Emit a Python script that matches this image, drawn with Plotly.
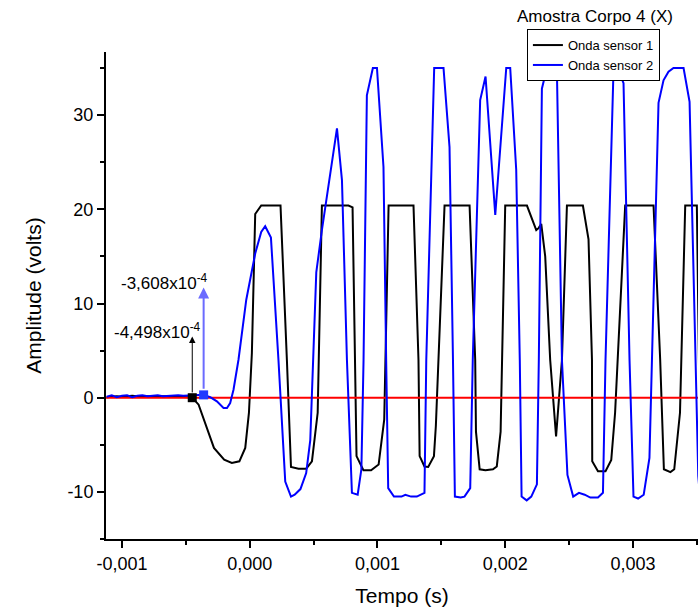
import numpy as np
import plotly.graph_objects as go

# Sensor 1 (black) waveform: time in ms, amplitude in volts
t1_ms = [-1.12, -1.08, -1.04, -1.00, -0.96, -0.92, -0.88, -0.84, -0.80, -0.76,
         -0.72, -0.68, -0.64, -0.60, -0.56, -0.52, -0.48, -0.4498,
         -0.400, -0.280, -0.200, -0.140, -0.081, -0.035, -0.006, 0.017, 0.043,
         0.090, 0.241, 0.291, 0.323, 0.382, 0.442, 0.487, 0.532, 0.565,
         0.773, 0.805, 0.826, 0.836, 0.890, 0.950, 1.009, 1.053, 1.087,
         1.282, 1.321, 1.330, 1.368, 1.397, 1.442, 1.457, 1.525,
         1.721, 1.765, 1.771, 1.800, 1.845, 1.904, 1.934, 1.964, 2.000,
         2.170, 2.209, 2.243, 2.261, 2.282, 2.313, 2.352, 2.398, 2.444, 2.483,
         2.608, 2.652, 2.679, 2.681, 2.726, 2.785, 2.830, 2.860, 2.939,
         3.161, 3.213, 3.242, 3.293, 3.323, 3.368, 3.409, 3.500, 3.530]
v1 = [0.05, 0.10, 0.15, 0.10, 0.15, 0.20, 0.15, 0.15, 0.20, 0.20,
      0.15, 0.15, 0.20, 0.15, 0.10, 0.10, 0.05, 0.0,
      -0.74, -5.33, -6.57, -6.92, -6.75, -5.33, -1.59, 4.77, 19.5,
      20.4, 20.4, 4.0, -7.35, -7.53, -7.53, -6.75, -1.6, 20.4,
      20.4, 20.2, 4.0, -6.2, -7.7, -7.7, -7.1, -2.3, 20.4,
      20.4, 4.0, -6.2, -7.3, -7.35, -6.2, -3.0, 20.4,
      20.4, 4.0, -3.6, -7.6, -7.7, -7.6, -7.3, -3.6, 20.4,
      20.4, 18.9, 17.8, 18.0, 18.45, 15.0, 4.0, -4.1, 4.0, 20.4,
      20.4, 16.8, 4.0, -6.75, -7.8, -7.8, -6.6, -1.6, 20.4,
      20.4, 4.0, -7.6, -7.9, -7.6, -1.6, 20.4, 20.4, -10.0]

# Sensor 2 (blue) waveform: time in ms, amplitude in volts
t2_ms = [-1.12, -1.08, -1.04, -1.00, -0.96, -0.92, -0.88, -0.84, -0.80, -0.76,
         -0.72, -0.68, -0.64, -0.60, -0.56, -0.52, -0.48, -0.44, -0.40, -0.3608,
         -0.309, -0.257, -0.205, -0.178, -0.153, -0.127, -0.088, -0.027, 0.043,
         0.090, 0.121, 0.166, 0.225, 0.278, 0.323, 0.352, 0.397, 0.442, 0.474,
         0.497, 0.521, 0.565, 0.683, 0.722, 0.761, 0.800, 0.845, 0.874, 0.891,
         0.917, 0.964, 0.996, 1.047, 1.068, 1.084, 1.129, 1.188, 1.218, 1.263,
         1.308, 1.368, 1.382, 1.444, 1.517, 1.564, 1.591, 1.606, 1.651, 1.681,
         1.726, 1.746, 1.804, 1.846, 1.922, 2.008, 2.039, 2.086, 2.114, 2.128,
         2.168, 2.204, 2.248, 2.263, 2.287, 2.326, 2.358, 2.405, 2.444, 2.487,
         2.532, 2.577, 2.622, 2.666, 2.726, 2.765, 2.785, 2.848, 2.879, 2.926,
         2.973, 3.004, 3.040, 3.084, 3.129, 3.147, 3.200, 3.239, 3.278, 3.317,
         3.396, 3.443, 3.487, 3.511, 3.527]
v2 = [0.10, 0.25, 0.05, 0.20, 0.25, 0.05, 0.20, 0.25, 0.15, 0.20,
      0.25, 0.15, 0.20, 0.20, 0.25, 0.20, 0.20, 0.25, 0.30, 0.30,
      0.07, -0.39, -1.09, -1.09, -0.56, 0.85, 4.03, 10.4, 15.3,
      17.6, 18.2, 17.0, 4.0, -8.9, -10.5, -10.3, -9.7, -8.0, -4.5,
      4.0, 13.3, 17.8, 28.6, 23.1, 4.0, -10.1, -10.3, -7.6, 4.0,
      32.1, 35.0, 35.0, 24.5, 4.0, -9.6, -10.5, -10.5, -10.3, -10.5,
      -10.5, -10.1, 4.0, 35.0, 35.0, 26.6, 4.0, -10.5, -10.6, -10.5,
      -9.6, 4.0, 31.6, 34.1, 19.4, 35.0, 35.0, 24.2, 4.0, -10.5,
      -10.9, -10.5, -9.2, 4.0, 32.8, 35.0, 35.0, 34.4, 4.0, -8.2,
      -10.5, -10.1, -10.3, -10.6, -10.6, -10.1, 4.0, 35.0, 35.0, 33.4,
      4.0, -10.5, -10.7, -10.3, -6.4, 4.0, 31.3, 33.7, 34.6, 35.0,
      35.0, 31.4, 4.0, -8.3, -10.8]

# Trigger points picked on each sensor (s, V) and their labels
trig_t = [-4.498e-4, -3.608e-4]
trig_v = [0.0, 0.3]
trig_text = ["-4,498x10<sup>-4</sup>", "-3,608x10<sup>-4</sup>"]

# Axis settings and tick labels
x_range = [-0.001125, 0.003509]
y_range = [-15, 36.7]
x_ticks = [-0.001, 0.0, 0.001, 0.002, 0.003]
x_ticklabels = ["-0,001", "0,000", "0,001", "0,002", "0,003"]
y_ticks = [-10, 0, 10, 20, 30]
y_ticklabels = ["-10", "0", "10", "20", "30"]

t1 = np.array(t1_ms) * 1e-3
t2 = np.array(t2_ms) * 1e-3

FONT = "Liberation Sans, Arial, sans-serif"

fig = go.Figure()
fig.add_trace(go.Scatter(x=t1, y=v1, mode="lines", name="Onda sensor 1",
                         line=dict(color="#000000", width=2)))
fig.add_trace(go.Scatter(x=x_range, y=[0, 0], mode="lines", showlegend=False,
                         line=dict(color="#ff0000", width=2), hoverinfo="skip"))
fig.add_trace(go.Scatter(x=t2, y=v2, mode="lines", name="Onda sensor 2",
                         line=dict(color="#0000ff", width=2)))
fig.add_trace(go.Scatter(x=[trig_t[0]], y=[trig_v[0]], mode="markers", showlegend=False,
                         marker=dict(symbol="square", size=9, color="#000000")))
fig.add_trace(go.Scatter(x=[trig_t[1]], y=[trig_v[1]], mode="markers", showlegend=False,
                         marker=dict(symbol="square", size=9, color="#1f3bff")))

# Arrows rising from each trigger point
fig.add_annotation(x=trig_t[0], y=6.5, ax=trig_t[0], ay=trig_v[0] + 0.4,
                   xref="x", yref="y", axref="x", ayref="y", text="",
                   showarrow=True, arrowhead=2, arrowsize=1.3, arrowwidth=1,
                   arrowcolor="#000000")
fig.add_annotation(x=trig_t[1], y=11.7, ax=trig_t[1], ay=trig_v[1] + 0.5,
                   xref="x", yref="y", axref="x", ayref="y", text="",
                   showarrow=True, arrowhead=2, arrowsize=1.1, arrowwidth=2,
                   arrowcolor="#6b6bff")
fig.add_annotation(x=-3.64e-4, y=7.1, text=trig_text[0], showarrow=False,
                   xanchor="right", yanchor="middle",
                   font=dict(family=FONT, size=17, color="#000000"))
fig.add_annotation(x=-3.09e-4, y=12.3, text=trig_text[1], showarrow=False,
                   xanchor="right", yanchor="middle",
                   font=dict(family=FONT, size=17, color="#000000"))

# Legend heading
fig.add_annotation(x=0.826, y=1.073, xref="paper", yref="paper",
                   text="Amostra Corpo 4 (X)", showarrow=False,
                   xanchor="center", yanchor="middle",
                   font=dict(family=FONT, size=17, color="#000000"))

axis_common = dict(
    showgrid=False, zeroline=False, showline=True, linecolor="#000000", linewidth=2,
    ticks="outside", ticklen=7, tickwidth=1.5, tickcolor="#000000",
    tickfont=dict(family=FONT, size=18, color="#000000"),
    mirror=False,
)

fig.update_layout(
    width=698, height=612,
    margin=dict(l=106, r=0, t=52, b=73),
    plot_bgcolor="#ffffff", paper_bgcolor="#ffffff",
    font=dict(family=FONT, color="#000000"),
    xaxis=dict(range=x_range, tickvals=x_ticks, ticktext=x_ticklabels,
               title=dict(text="Tempo (s)", font=dict(family=FONT, size=21), standoff=16),
               minor=dict(dtick=0.0005, tick0=0, ticks="outside", ticklen=4,
                          tickwidth=1.5, tickcolor="#000000"),
               **axis_common),
    yaxis=dict(range=y_range, tickvals=y_ticks, ticktext=y_ticklabels,
               title=dict(text="Amplitude (volts)", font=dict(family=FONT, size=21), standoff=20),
               minor=dict(dtick=5, tick0=0, ticks="outside", ticklen=4,
                          tickwidth=1.5, tickcolor="#000000"),
               **axis_common),
    legend=dict(x=0.711, y=1.047, xanchor="left", yanchor="top",
                bordercolor="#000000", borderwidth=1, bgcolor="#ffffff",
                font=dict(family=FONT, size=13, color="#000000"),
                itemwidth=30, tracegroupgap=0),
    showlegend=True,
)

fig.write_html("out.html")
